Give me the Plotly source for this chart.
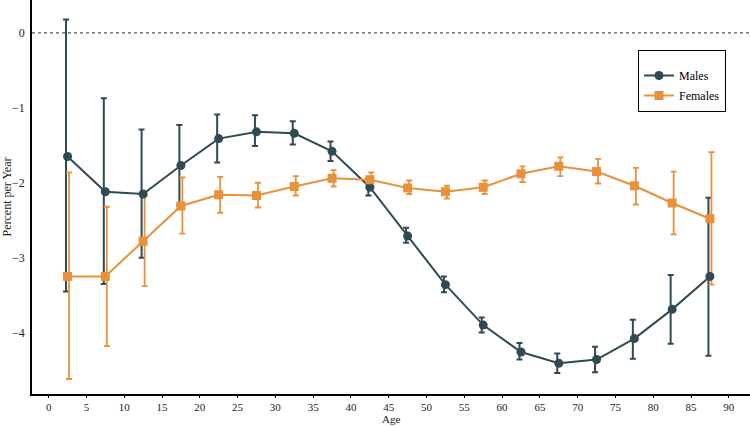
import plotly.graph_objects as go

ages = [2.5, 7.5, 12.5, 17.5, 22.5, 27.5, 32.5, 37.5, 42.5, 47.5, 52.5, 57.5, 62.5, 67.5, 72.5, 77.5, 82.5, 87.5]

males = [-1.65, -2.12, -2.15, -1.77, -1.41, -1.32, -1.34, -1.58, -2.06, -2.71, -3.36, -3.90, -4.26, -4.41, -4.36, -4.08, -3.69, -3.25]
males_hi = [0.18, -0.87, -1.29, -1.23, -1.09, -1.10, -1.18, -1.45, -1.95, -2.60, -3.25, -3.80, -4.14, -4.28, -4.19, -3.83, -3.23, -2.20]
males_lo = [-3.45, -3.35, -3.00, -2.30, -1.73, -1.51, -1.49, -1.71, -2.17, -2.80, -3.46, -4.00, -4.36, -4.54, -4.53, -4.35, -4.15, -4.31]

females = [-3.25, -3.25, -2.78, -2.31, -2.16, -2.17, -2.05, -1.94, -1.96, -2.07, -2.12, -2.06, -1.88, -1.78, -1.85, -2.04, -2.27, -2.48]
females_hi = [-1.86, -2.32, -2.17, -1.93, -1.92, -2.00, -1.91, -1.83, -1.86, -1.97, -2.04, -1.97, -1.78, -1.66, -1.68, -1.80, -1.85, -1.59]
females_lo = [-4.62, -4.18, -3.38, -2.68, -2.40, -2.33, -2.17, -2.05, -2.06, -2.15, -2.21, -2.15, -1.99, -1.91, -2.01, -2.29, -2.69, -3.36]

x_ticks = list(range(0, 95, 5))
y_ticks = [0, -1, -2, -3, -4]

MALE_C = "#2f4a53"
FEM_C = "#e8913a"
FONT = "Liberation Serif"

fig = go.Figure()

# error bars (slightly dodged), drawn as separate traces
fig.add_trace(go.Scatter(
    x=[a - 0.2 for a in ages], y=males, mode="markers", marker=dict(size=0.1, color=MALE_C),
    error_y=dict(type="data", symmetric=False,
                 array=[h - v for h, v in zip(males_hi, males)],
                 arrayminus=[v - l for v, l in zip(males, males_lo)],
                 color=MALE_C, thickness=2, width=3),
    showlegend=False, hoverinfo="skip"))
fig.add_trace(go.Scatter(
    x=[a + 0.2 for a in ages], y=females, mode="markers", marker=dict(size=0.1, color=FEM_C),
    error_y=dict(type="data", symmetric=False,
                 array=[h - v for h, v in zip(females_hi, females)],
                 arrayminus=[v - l for v, l in zip(females, females_lo)],
                 color=FEM_C, thickness=1.8, width=3),
    showlegend=False, hoverinfo="skip"))

fig.add_trace(go.Scatter(
    x=ages, y=males, mode="lines+markers", name="Males", legendgroup="m",
    line=dict(color=MALE_C, width=2),
    marker=dict(symbol="circle", size=9, color=MALE_C)))
fig.add_trace(go.Scatter(
    x=ages, y=females, mode="lines+markers", name="Females", legendgroup="f",
    line=dict(color=FEM_C, width=2),
    marker=dict(symbol="square", size=9, color=FEM_C)))

fig.add_hline(y=0, line=dict(color="#555555", width=1.2, dash="dot"), layer="below")

fig.add_annotation(text="Age", xref="paper", yref="paper", x=0.5, y=0,
                   yshift=-32, yanchor="bottom", showarrow=False, borderpad=0,
                   font=dict(family=FONT, size=11, color="#222222"))

fig.update_layout(
    width=750, height=426,
    margin=dict(l=32, r=0, t=0, b=32),
    paper_bgcolor="white", plot_bgcolor="white",
    font=dict(family=FONT, size=12, color="#222222"),
    legend=dict(x=0.844, y=0.874, xanchor="left", yanchor="top",
                bordercolor="black", borderwidth=1, bgcolor="white",
                font=dict(family=FONT, size=12, color="black"),
                title=dict(text=" ", font=dict(size=8)),
                itemwidth=30, tracegroupgap=1),
    xaxis=dict(range=[-2.2, 92.8], tickvals=x_ticks, ticktext=[str(t) for t in x_ticks],
               showgrid=False, zeroline=False, showline=True, linecolor="black", linewidth=1.5,
               ticks="outside", ticklen=2, tickcolor="black", tickfont=dict(size=11),
               ticklabelstandoff=0),
    yaxis=dict(range=[-4.82, 0.44], tickvals=y_ticks, ticktext=["0", "\u22121", "\u22122", "\u22123", "\u22124"],
               showgrid=False, zeroline=False, showline=True, linecolor="black", linewidth=1.5,
               ticks="", ticklabelstandoff=3,
               title=dict(text="Percent per Year", font=dict(family=FONT, size=12), standoff=2)),
)

fig.write_html("out.html", config={"displayModeBar": False},
               post_script="document.body.style.margin='0';document.body.style.overflow='hidden';")
